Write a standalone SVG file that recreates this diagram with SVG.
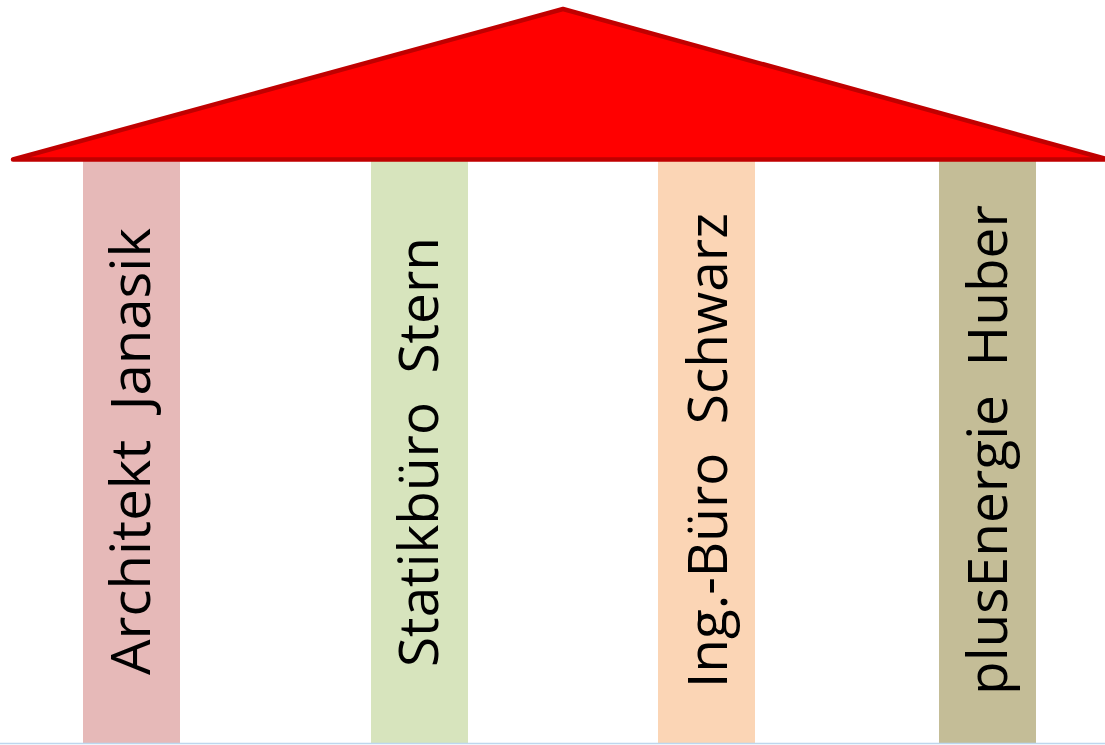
<svg xmlns="http://www.w3.org/2000/svg" width="1105" height="745" viewBox="0 0 1105 745">
<style>
.lbl{font-family:"Open Sans","Noto Sans","Liberation Sans",sans-serif;font-size:54px;fill:#000;text-anchor:middle;white-space:pre}
</style>
<rect x="0" y="0" width="1105" height="745" fill="#fff"/>
<g id="connectors"/>
<g id="pillar1"><rect x="83" y="161" width="97" height="582" fill="#E6B9B8"/><text class="lbl" xml:space="preserve" transform="translate(150,451.5) rotate(-90)" textLength="447" lengthAdjust="spacingAndGlyphs">Architekt  Janasik</text></g>
<g id="pillar2"><rect x="371" y="161" width="97" height="582" fill="#D7E4BD"/><text class="lbl" xml:space="preserve" transform="translate(438,452) rotate(-90)" textLength="430" lengthAdjust="spacingAndGlyphs">Statikbüro  Stern</text></g>
<g id="pillar3"><rect x="658" y="161" width="97" height="582" fill="#FBD5B5"/><text class="lbl" xml:space="preserve" transform="translate(727,450.5) rotate(-90)" textLength="475" lengthAdjust="spacingAndGlyphs">Ing.-Büro  Schwarz</text></g>
<g id="pillar4"><rect x="939" y="161" width="97" height="582" fill="#C4BD97"/><text class="lbl" xml:space="preserve" transform="translate(1007,450) rotate(-90)" textLength="490" lengthAdjust="spacingAndGlyphs">plusEnergie  Huber</text></g>
<g id="roof"><polygon points="13,159.5 563,9 1108,159.5" fill="#FF0000" stroke="#C00000" stroke-width="4.5" stroke-linejoin="round"/></g>
<line x1="0" y1="743.5" x2="1105" y2="743.5" stroke="#BDD7EE" stroke-width="1.5"/>
</svg>
